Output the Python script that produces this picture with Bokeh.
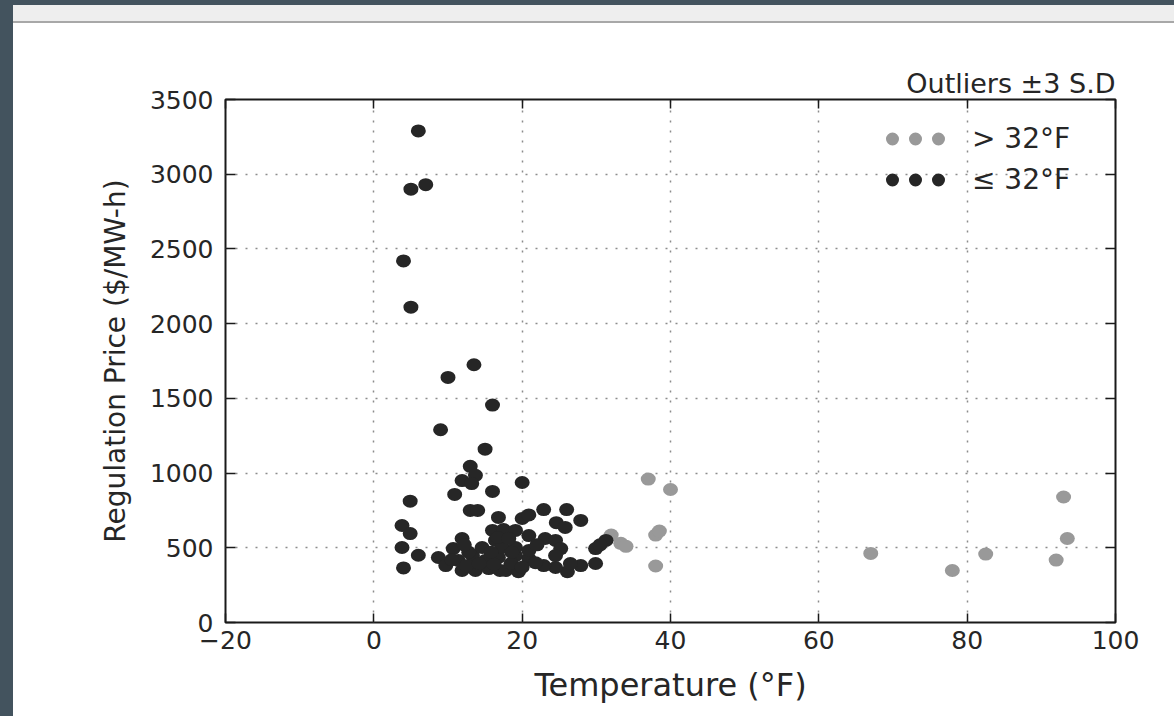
from bokeh.plotting import figure
from bokeh.models import (Range1d, FixedTicker, LinearAxis, Legend, LegendItem,
                          ColumnDataSource, Title, Div, GlobalInlineStyleSheet)
from bokeh.layouts import column, row
from bokeh.embed import file_html
from bokeh.resources import INLINE

# ---------------- data ----------------
cold_temp = [6, 5, 7, 4, 5, 10, 13.5, 16, 9, 15,
             13, 13.7, 11.9, 13.2, 10.9, 16, 20, 4.9, 13, 14,
             16.8, 20, 20.9, 22.9, 26, 27.9, 24.6, 25.8, 3.8, 4.9,
             16, 11.9, 3.8, 6, 4, 8.7, 10.7, 9.7, 11.9, 11.4,
             13.3, 14.6, 15, 13.7, 15.5, 16.8, 16.4, 17, 17.5, 19.1,
             20.9, 23.1, 24.5, 25.2, 29.9, 31.3, 29.9, 27.9, 26.1, 24.5,
             22.9, 20.9, 19.1, 17.8, 19.5, 17.3, 19.1, 20.9, 24.5, 16.7,
             18.2, 30.5, 12.5, 14.2, 16.2, 18.5, 20, 10.5, 12.8, 15.8,
             18.6, 21.8, 26.5, 22, 12.2]
cold_price = [3290, 2900, 2930, 2420, 2110, 1640, 1725, 1455, 1290, 1160,
              1045, 985, 950, 930, 857, 877, 937, 812, 750, 750,
              703, 696, 720, 756, 756, 683, 668, 636, 649, 595,
              616, 562, 502, 450, 365, 435, 495, 381, 348, 415,
              448, 502, 415, 348, 361, 435, 549, 348, 622, 616,
              582, 562, 549, 495, 495, 549, 395, 381, 340, 368,
              381, 428, 448, 348, 340, 502, 502, 482, 448, 569,
              562, 520, 380, 395, 390, 395, 370, 420, 470, 470,
              470, 400, 395, 520, 520]
warm_temp = [32, 33.3, 34, 37, 40, 38, 38.5, 38, 67, 78, 82.5, 93, 93.5, 92]
warm_price = [585, 530, 510, 960, 890, 585, 612, 378, 462, 348, 458, 840, 562, 418]

x_ticks = [-20, 0, 20, 40, 60, 80, 100]
x_tick_labels = ["\u221220", "0", "20", "40", "60", "80", "100"]
y_ticks = [0, 500, 1000, 1500, 2000, 2500, 3000, 3500]
y_tick_labels = ["0", "500", "1000", "1500", "2000", "2500", "3000", "3500"]
legend_labels = ["> 32\u00b0F", "\u2264 32\u00b0F"]
title_text = "Outliers \u00b13 S.D"
x_label = "Temperature (\u00b0F)"
y_label = "Regulation Price ($/MW-h)"

# ---------------- style ----------------
FONT = "DejaVu Sans"
DARK = "#262626"
GRAY = "#999999"
TXT = "#262626"
FRAME = "#1a1a1a"
NAN = float("nan")

W, H = 1161, 693
p = figure(width=W, height=H, x_range=Range1d(-20, 100), y_range=Range1d(0, 3500),
           output_backend="svg", toolbar_location=None, title=None,
           min_border_left=212, min_border_right=59, min_border_top=76, min_border_bottom=94,
           background_fill_color="white", border_fill_color="white")
p.outline_line_color = FRAME
p.outline_line_width = 2
p.outline_line_alpha = 1

# main axes
xa = p.xaxis[0]
ya = p.yaxis[0]
xa.ticker = FixedTicker(ticks=x_ticks)
ya.ticker = FixedTicker(ticks=y_ticks)
xa.major_label_overrides = dict(zip(x_ticks, x_tick_labels))
ya.major_label_overrides = dict(zip(y_ticks, y_tick_labels))
xa.axis_label = x_label
ya.axis_label = y_label
for ax, tin, stand, lstand, lsize in ((xa, 9, 8, 14, "32px"), (ya, 10, 12, 15, "28px")):
    ax.axis_line_color = None
    ax.major_tick_in = tin
    ax.major_tick_out = 0
    ax.major_tick_line_color = FRAME
    ax.major_tick_line_width = 1.5
    ax.minor_tick_line_color = None
    ax.major_label_text_font = FONT
    ax.major_label_text_font_size = "25px"
    ax.major_label_text_color = TXT
    ax.major_label_standoff = stand
    ax.axis_label_text_font = FONT
    ax.axis_label_text_font_size = lsize
    ax.axis_label_text_font_style = "normal"
    ax.axis_label_text_color = TXT
    ax.axis_label_standoff = lstand

# mirrored ticks on top and right
top = LinearAxis(ticker=FixedTicker(ticks=x_ticks), major_label_text_color=None,
                 major_label_text_font_size="1px", major_label_standoff=0,
                 major_tick_in=9, major_tick_out=0, major_tick_line_color=FRAME,
                 major_tick_line_width=1.5, minor_tick_line_color=None, axis_line_color=None)
right = LinearAxis(ticker=FixedTicker(ticks=y_ticks), major_label_text_color=None,
                   major_label_text_font_size="1px", major_label_standoff=0,
                   major_tick_in=10, major_tick_out=0, major_tick_line_color=FRAME,
                   major_tick_line_width=1.5, minor_tick_line_color=None, axis_line_color=None)
p.add_layout(top, "above")
p.add_layout(right, "right")

# grid
for g in (p.xgrid[0], p.ygrid[0]):
    g.grid_line_color = "#8c8c8c"
    g.grid_line_width = 1.5
    g.grid_line_dash = "2 8"

# title
t = Title(text=title_text, align="right", text_font=FONT, text_font_size="27px",
          text_font_style="normal", text_color=TXT, standoff=2)
p.add_layout(t, "above")

# points
src_w = ColumnDataSource(dict(x=warm_temp, y=warm_price))
src_c = ColumnDataSource(dict(x=cold_temp, y=cold_price))
p.ellipse(x="x", y="y", width=15, height=13, width_units="screen", height_units="screen",
          source=src_w, fill_color=GRAY, line_color=None)
p.ellipse(x="x", y="y", width=15, height=13, width_units="screen", height_units="screen",
          source=src_c, fill_color=DARK, line_color=None)

# legend swatches (three dots each, matplotlib style); the renderers hold no visible data
lg_w = p.line(x="x", y="y", source=ColumnDataSource(dict(x=[NAN], y=[NAN])), line_color=GRAY,
              line_width=13, line_cap="round", line_dash="0 23", line_dash_offset=16)
lg_c = p.line(x="x", y="y", source=ColumnDataSource(dict(x=[NAN], y=[NAN])), line_color=DARK,
              line_width=13, line_cap="round", line_dash="0 23", line_dash_offset=16)
legend = Legend(items=[LegendItem(label=legend_labels[0], renderers=[lg_w]),
                       LegendItem(label=legend_labels[1], renderers=[lg_c])],
                location=(660, 422), glyph_width=60, glyph_height=41, label_height=41,
                label_standoff=27, padding=10, spacing=0, margin=0,
                border_line_color=None, background_fill_alpha=0,
                label_text_font=FONT, label_text_font_size="28px", label_text_color=TXT)
p.add_layout(legend)

# ---------------- page frame ----------------
css = GlobalInlineStyleSheet(css="html, body { margin: 0; padding: 0; overflow: hidden; background: #ffffff; }")
top_bar = Div(text="", width=1174, height=5, margin=0, styles={"background-color": "#43535e"})
left_bar = Div(text="", width=13, height=711, margin=0, styles={"background-color": "#43535e"})
gray_bar = Div(text="", width=1161, height=18, margin=0,
               styles={"background-color": "#eeeeee", "border-bottom": "2px solid #a8a8a8",
                       "box-sizing": "border-box"})
root = column(top_bar, row(left_bar, column(gray_bar, p, spacing=0), spacing=0), spacing=0)
root.stylesheets = [css]

open("out.html", "w").write(file_html(root, INLINE))
